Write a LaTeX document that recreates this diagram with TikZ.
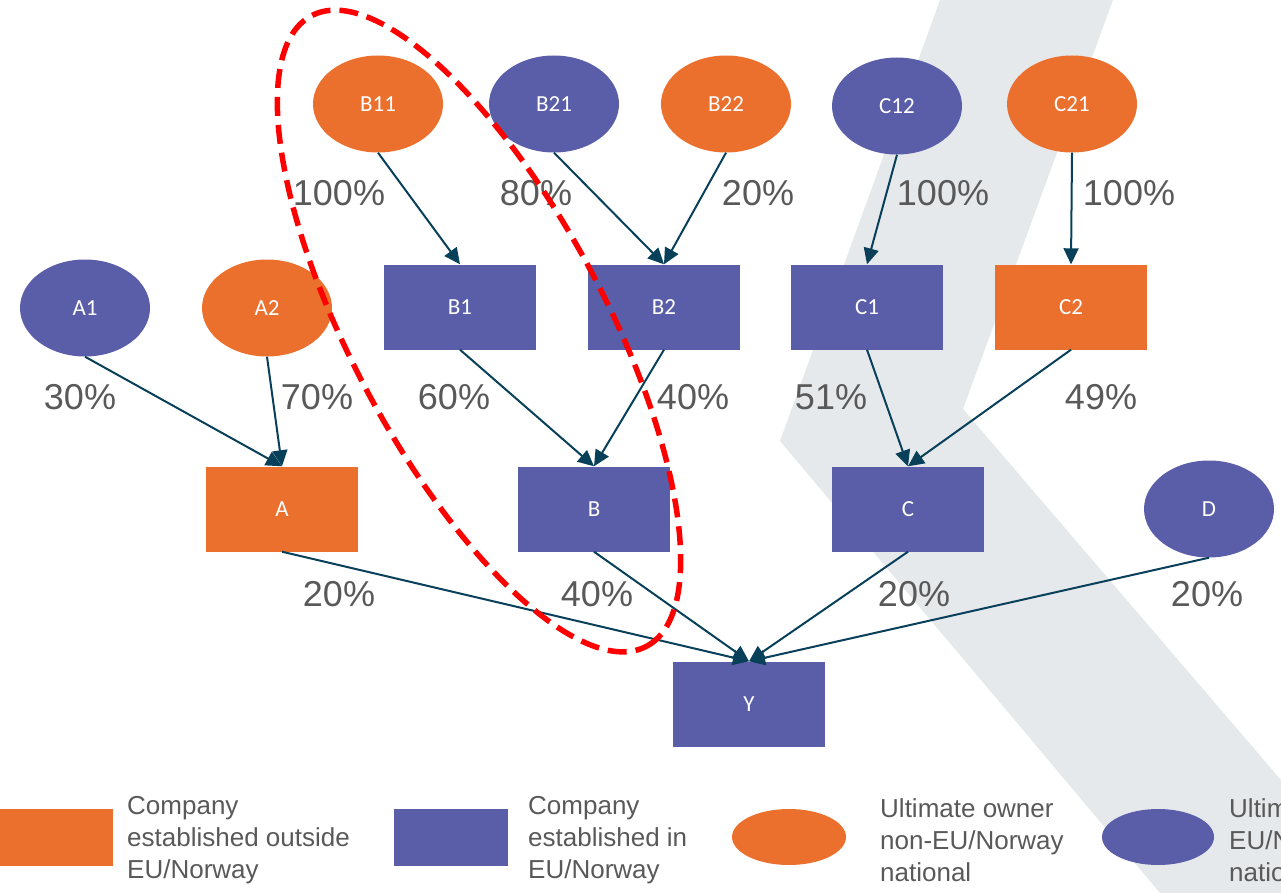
\documentclass[tikz,border=0pt]{standalone}
\usepackage{fontspec}
\setmainfont{Liberation Sans}
\newfontfamily\lblfont{Carlito}
\usetikzlibrary{shapes.geometric,arrows.meta}
\definecolor{orng}{RGB}{235,112,46}
\definecolor{purp}{RGB}{90,94,168}
\definecolor{edgec}{RGB}{8,64,90}
\definecolor{bgc}{RGB}{230,233,236}
\definecolor{txtc}{RGB}{89,89,89}
\begin{document}
\begin{tikzpicture}[x=1pt,y=-1pt,
  own/.style={ellipse, minimum width=130pt, minimum height=97pt, inner sep=0pt,
    font=\lblfont\fontsize{23}{27}\selectfont, text=white},
  comp/.style={rectangle, minimum width=152pt, minimum height=85pt, inner sep=0pt,
    font=\lblfont\fontsize{23}{27}\selectfont, text=white},
  orn/.style={fill=orng},
  pur/.style={fill=purp},
  pct/.style={font=\fontsize{36}{40}\selectfont, text=txtc, inner sep=0pt},
  legtxt/.style={font=\fontsize{26}{32}\selectfont, text=txtc, align=left, anchor=west, inner sep=0pt},
  link/.style={draw=edgec, line width=2pt, -{Triangle[length=16pt,width=15pt]}},
  ring/.style={draw=red, line width=5.5pt, dash pattern=on 19pt off 9pt, ellipse}
]
\useasboundingbox (0,0) rectangle (1281,893);
\clip (0,0) rectangle (1281,893);
% background chevron
\fill[bgc] (940,0) -- (1113,0) -- (963,409) -- (1281,780) -- (1281,893) -- (1160,893) -- (780,441) -- cycle;

% owners
\node[own,orn] (B11) at (378,104) {B11};
\node[own,pur] (B21) at (554,104) {B21};
\node[own,orn] (B22) at (726,104) {B22};
\node[own,pur] (C12) at (897,106) {C12};
\node[own,orn] (C21) at (1072,104) {C21};
\node[own,pur] (A1) at (85,308) {A1};
\node[own,orn] (A2) at (267,308) {A2};
\node[own,pur] (D) at (1209,509) {D};
% companies
\node[comp,pur] (B1) at (460,307) {B1};
\node[comp,pur] (B2) at (664,307) {B2};
\node[comp,pur] (C1) at (867,307) {C1};
\node[comp,orn] (C2) at (1071,307) {C2};
\node[comp,orn] (A) at (282,509) {A};
\node[comp,pur] (B) at (594,509) {B};
\node[comp,pur] (C) at (908,509) {C};
\node[comp,pur] (Y) at (749,704) {Y};

% connectors
\draw[link] (B11.south) -- (B1.north);
\draw[link] (B21.south) -- (B2.north);
\draw[link] (B22.south) -- (B2.north);
\draw[link] (C12.south) -- (C1.north);
\draw[link] (C21.south) -- (C2.north);
\draw[link] (A1.south) -- (A.north);
\draw[link] (A2.south) -- (A.north);
\draw[link] (B1.south) -- (B.north);
\draw[link] (B2.south) -- (B.north);
\draw[link] (C1.south) -- (C.north);
\draw[link] (C2.south) -- (C.north);
\draw[link] (A.south) -- (Y.north);
\draw[link] (B.south) -- (Y.north);
\draw[link] (C.south) -- (Y.north);
\draw[link] (D.south) -- (Y.north);

% percentages
\node[pct] (pB11) at (339,193) {100\%};
\node[pct] (pB21) at (536,193) {80\%};
\node[pct] (pB22) at (758,193) {20\%};
\node[pct] (pC12) at (943,193) {100\%};
\node[pct] (pC21) at (1129,193) {100\%};
\node[pct] (pA1) at (80,397) {30\%};
\node[pct] (pA2) at (317,397) {70\%};
\node[pct] (pB1) at (454,397) {60\%};
\node[pct] (pB2) at (693,397) {40\%};
\node[pct] (pC1) at (831,397) {51\%};
\node[pct] (pC2) at (1101,397) {49\%};
\node[pct] (pA) at (339,594) {20\%};
\node[pct] (pB) at (597,594) {40\%};
\node[pct] (pC) at (914,594) {20\%};
\node[pct] (pD) at (1207,594) {20\%};

% red dashed ring
\node[ring, minimum width=714pt, minimum height=254pt, rotate=-62] (ring) at (479,331) {};

% legend
\node[rectangle, orn, minimum width=113pt, minimum height=57pt, inner sep=0pt] (L1) at (56.5,837) {};
\node[legtxt] (L1t) at (127,840) {Company\\established outside\\EU/Norway};
\node[rectangle, pur, minimum width=114pt, minimum height=57pt, inner sep=0pt] (L2) at (451,837) {};
\node[legtxt] (L2t) at (528,840) {Company\\established in\\EU/Norway};
\node[ellipse, orn, minimum width=114pt, minimum height=56pt, inner sep=0pt] (L3) at (789,837) {};
\node[legtxt] (L3t) at (880,840) {Ultimate owner\\non-EU/Norway\\national};
\node[ellipse, pur, minimum width=112pt, minimum height=56pt, inner sep=0pt] (L4) at (1158,837) {};
\node[legtxt] (L4t) at (1229,840) {Ultimate owner\\EU/Norway\\national};
\end{tikzpicture}
\end{document}
